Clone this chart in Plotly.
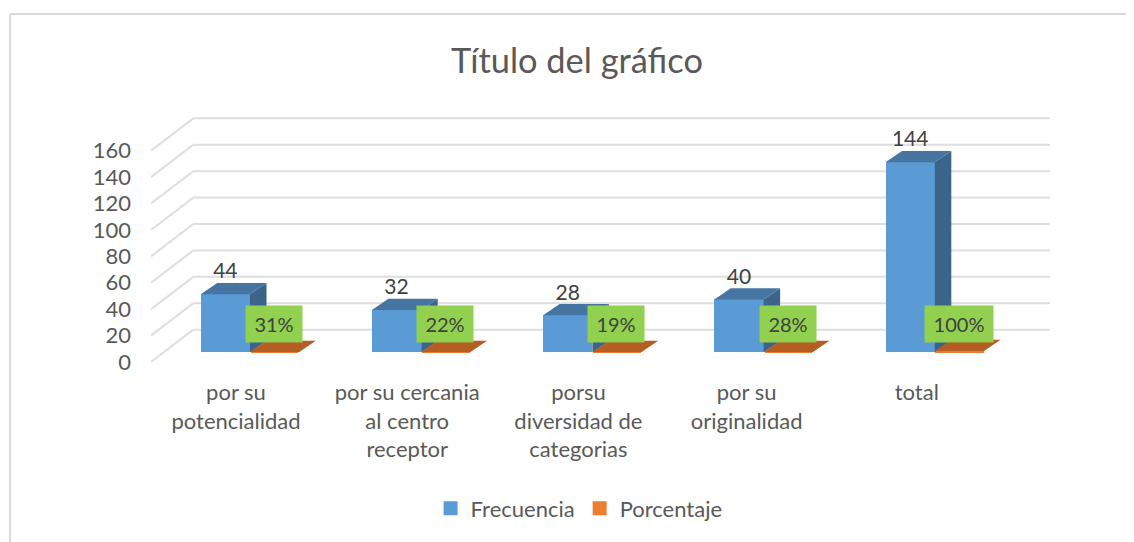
import plotly.graph_objects as go

categories = ["por su<br>potencialidad", "por su cercania<br>al centro<br>receptor",
              "porsu<br>diversidad de<br>categorias", "por su<br>originalidad", "total"]
frecuencia = [44, 32, 28, 40, 144]
porcentaje = [31, 22, 19, 28, 100]
porcentaje_labels = ["31%", "22%", "19%", "28%", "100%"]
y_ticks = [0, 20, 40, 60, 80, 100, 120, 140, 160]
label_shift_px = [14, 14, 14, 17, 18]

PAGE = 8                        # the page's own margin round the figure
WIDTH, HEIGHT = 1134 - PAGE, 542 - PAGE
L, R, T, B = 151 - PAGE, 1050 - PAGE, 110 - PAGE, 361.7 - PAGE
X0, STEP = 250 - PAGE, 171.2    # pixel of first group centre, pixels per category
PXU = 1.319                     # pixels per y unit
xr = [(L - X0) / STEP, (R - X0) / STEP]
yr = [0, (B - T) / PXU]

def dx(px): return px / STEP
def dy(px): return px / PXU

floor = dy(9.7)
bar_w = dx(49.3)
edge = dx(1)
depth_x, depth_y = dx(16.5), dy(11.2)
wall_x, wall_y = dx(42.3), dy(32.3)

BLUE, BLUE_TOP, BLUE_SIDE = "#5B9BD5", "#4575A0", "#3A6489"
ORANGE, ORANGE_TOP = "#ED7D31", "#B55D22"
FONT = "Lato"
xs = list(range(len(categories)))

fig = go.Figure()
fig.add_bar(name="Frecuencia", x=xs, y=[v - dy(2) for v in frecuencia], base=floor + dy(1),
            width=bar_w - 2 * edge, offset=-bar_w + edge,
            marker=dict(color=BLUE, line=dict(color=BLUE, width=2)))
fig.add_bar(name="Porcentaje", x=xs, y=[p / 100 for p in porcentaje], base=floor,
            width=bar_w - 2 * edge, offset=edge,
            marker=dict(color=ORANGE, line=dict(color=ORANGE, width=2)))

def poly(x, y, color):
    fig.add_scatter(x=x, y=y, mode="lines", fill="toself", fillcolor=color,
                    line=dict(width=0, color=color), showlegend=False, hoverinfo="skip")

for i, v in enumerate(frecuencia):
    top = floor + v
    poly([i, i + depth_x, i + depth_x, i, i],
         [floor, floor + depth_y, top + depth_y, top, floor], BLUE_SIDE)
    poly([i - bar_w, i, i + depth_x, i - bar_w + depth_x, i - bar_w],
         [top, top, top + depth_y, top + depth_y, top], BLUE_TOP)
for i, p in enumerate(porcentaje):
    top = floor + p / 100
    poly([i, i + bar_w, i + bar_w + depth_x, i + depth_x, i],
         [top, top, top + depth_y, top + depth_y, top], ORANGE_TOP)

fig.add_scatter(x=[i - bar_w / 2 for i in xs], y=[floor + v + dy(21) for v in frecuencia],
                mode="text", text=[str(v) for v in frecuencia], textposition="middle center",
                textfont=dict(family=FONT, size=21, color="#404040"),
                showlegend=False, hoverinfo="skip", cliponaxis=False)

shapes = []
for t in y_ticks:
    grid = dict(type="line", xref="x", yref="y", layer="below",
                line=dict(color="#DEDEDE", width=2))
    shapes.append(dict(grid, x0=xr[0], y0=t, x1=xr[0] + wall_x, y1=t + wall_y))
    shapes.append(dict(grid, x0=xr[0] + wall_x, y0=t + wall_y, x1=xr[1], y1=t + wall_y))
frame = dict(type="line", xref="paper", yref="paper", layer="below",
             line=dict(color="#D9D9D9", width=2))
def px(p): return (p - L) / (R - L)
def py(p): return (B - p) / (B - T)
shapes.append(dict(frame, x0=px(10 - PAGE), y0=py(14 - PAGE), x1=px(WIDTH), y1=py(14 - PAGE)))
shapes.append(dict(frame, x0=px(10 - PAGE), y0=py(14 - PAGE), x1=px(10 - PAGE), y1=py(HEIGHT)))

annotations = [
    dict(x=i + dx(24), y=dy(361.7 - 324), xref="x", yref="y", text=lab, showarrow=False,
         font=dict(family=FONT, size=20, color="#404040"), bgcolor="#92D050",
         width=66 if len(lab) > 3 else 54, height=34, align="center", valign="middle")
    for i, lab in enumerate(porcentaje_labels)
]

fig.update_layout(
    width=WIDTH, height=HEIGHT, autosize=False,
    margin=dict(l=L, r=WIDTH - R, t=T, b=HEIGHT - B, pad=0),
    paper_bgcolor="white", plot_bgcolor="rgba(0,0,0,0)",
    barmode="overlay", bargap=0,
    title=dict(text="Título del gráfico", x=(577 - PAGE) / WIDTH, xanchor="center",
               y=1 - (61 - PAGE) / HEIGHT, yanchor="middle",
               font=dict(family=FONT, size=34.4, color="#595959")),
    xaxis=dict(range=xr, tickmode="array",
               tickvals=[i - dx(s) for i, s in zip(xs, label_shift_px)], ticktext=categories,
               showgrid=False, zeroline=False, showline=False, ticks="", ticklabelstandoff=15,
               tickangle=0, tickfont=dict(family=FONT, size=22, color="#595959")),
    yaxis=dict(range=yr, tickmode="array", tickvals=y_ticks, showgrid=False, zeroline=False,
               showline=False, ticks="", ticklabelstandoff=19,
               tickfont=dict(family=FONT, size=22, color="#595959")),
    legend=dict(orientation="h", x=0.5 * (443 + 715 - 78) / 1134, xref="paper", xanchor="center",
                y=py(508 - PAGE), yanchor="middle", font=dict(family=FONT, size=22, color="#595959"),
                itemwidth=30, bgcolor="rgba(0,0,0,0)"),
    shapes=shapes, annotations=annotations, showlegend=True,
)
fig.write_html("out.html")
